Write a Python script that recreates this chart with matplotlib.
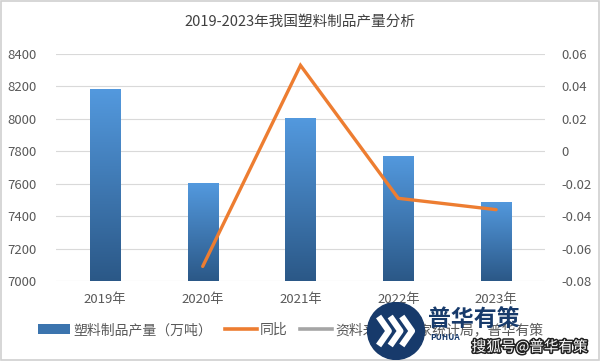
import matplotlib
matplotlib.use("Agg")
import matplotlib.pyplot as plt
import numpy as np
from matplotlib.patches import Rectangle, Circle, Patch
from matplotlib.lines import Line2D
import matplotlib.patheffects as pe
from matplotlib.colors import LinearSegmentedColormap

plt.rcParams['font.family'] = ['Noto Sans CJK SC', 'DejaVu Sans']

# ---- data ----
years = ["2019年", "2020年", "2021年", "2022年", "2023年"]
output = [8184, 7603, 8004, 7772, 7488]          # 万吨
yoy = [None, -0.071, 0.053, -0.029, -0.036]       # 同比
left_ticks = [7000, 7200, 7400, 7600, 7800, 8000, 8200, 8400]
right_ticks = [-0.08, -0.06, -0.04, -0.02, 0, 0.02, 0.04, 0.06]
right_labels = ["-0.08", "-0.06", "-0.04", "-0.02", "0", "0.02", "0.04", "0.06"]
title = "2019-2023年我国塑料制品产量分析"
legend_labels = ["塑料制品产量（万吨）", "同比", "资料来源：国家统计局，普华有策"]

W, H = 601, 361
fig = plt.figure(figsize=(W / 100, H / 100), dpi=100)

def fx(px):
    return px / W

def fy(py):
    return 1 - py / H

# outer border
fig.patches.append(Rectangle((0.002, 0.003), 0.995, 0.994, transform=fig.transFigure,
                             fill=False, edgecolor='#d0d0d0', linewidth=1.2))

ax = fig.add_axes([fx(56), fy(281), fx(545) - fx(56), fy(54) - fy(281)])
ax2 = ax.twinx()

x = np.arange(len(years))

# grid
for t in left_ticks:
    ax.axhline(t, color='#d9d9d9', linewidth=0.8, zorder=0)

# gradient bars
cmap = LinearSegmentedColormap.from_list('barg', ['#2b5887', '#5399de'])
grad = np.linspace(0, 1, 256).reshape(-1, 1)
bars = ax.bar(x, output, width=0.31, bottom=0, color='none', zorder=2)
for b in bars:
    x0, w = b.get_x(), b.get_width()
    top = b.get_height()
    im = ax.imshow(grad, cmap=cmap, aspect='auto', origin='lower',
                   extent=[x0, x0 + w, 7000, top], zorder=2)
    im.set_clip_path(b)
ax.set_xlim(-0.5, len(years) - 0.5)
ax.set_ylim(7000, 8400)
ax2.set_ylim(-0.08, 0.06)

# yoy line
xs = [i for i, v in enumerate(yoy) if v is not None]
ys = [v for v in yoy if v is not None]
ax2.plot(xs, ys, color='#ed7d31', linewidth=2.4, solid_capstyle='round',
         solid_joinstyle='miter', zorder=3)

for a in (ax, ax2):
    for s in a.spines.values():
        s.set_visible(False)
    a.tick_params(length=0, labelsize=9.5, labelcolor='#595959')

ax.set_yticks(left_ticks)
ax.set_yticklabels([str(t) for t in left_ticks])
ax.tick_params(axis='y', pad=14)
ax2.set_yticks(right_ticks)
ax2.set_yticklabels(right_labels)
ax2.tick_params(axis='y', pad=12)
ax.set_xticks(x)
ax.set_xticklabels(years)
ax.tick_params(axis='x', pad=9)
ax.set_zorder(1)
ax2.set_zorder(2)
ax2.patch.set_visible(False)

fig.text(fx(300), fy(22), title, ha='center', va='center', fontsize=10.5,
         color='#404040')

handles = [Patch(facecolor='#3b74ae', edgecolor='none'),
           Line2D([], [], color='#ed7d31', linewidth=2.6),
           Line2D([], [], color='#a5a5a5', linewidth=2.6)]
fig.legend(handles, legend_labels, ncol=3, loc='center',
           bbox_to_anchor=(fx(291), fy(330)), frameon=False, fontsize=10,
           labelcolor='#595959', handlelength=2.3, handletextpad=0.25,
           columnspacing=0.9, handleheight=0.7)

# watermark logo (drawn above the chart, as in the reference)
r = 29
cx, cy = 396, 331
logo_ax = fig.add_axes([fx(cx - r), fy(cy + r), fx(2 * r), fy(0) - fy(2 * r)])
logo_ax.set_zorder(10)
logo_ax.set_xlim(-1, 1)
logo_ax.set_ylim(-1, 1)
logo_ax.axis('off')
logo_ax.add_patch(Circle((0, 0), 0.98, color='#173a6b'))
for dx in (-0.45, -0.05, 0.35):
    logo_ax.plot([dx - 0.15, dx + 0.2, dx - 0.15], [0.5, 0.0, -0.5], color='white',
                 linewidth=4.5, solid_capstyle='butt')
fig.text(fx(428), fy(319), "普华有策", fontsize=16.5, fontweight='bold', color='#173a6b',
         ha='left', va='center', zorder=11)
fig.text(fx(430), fy(337), "PUHUA", fontsize=6, fontweight='bold', color='#173a6b',
         ha='left', va='center', zorder=11)
fig.text(fx(588), fy(347), "搜狐号@普华有策", fontsize=10.5, color='white',
         ha='right', va='center', zorder=11,
         path_effects=[pe.withStroke(linewidth=2.2, foreground='#222222')])

fig.savefig("out.png", dpi=100)
